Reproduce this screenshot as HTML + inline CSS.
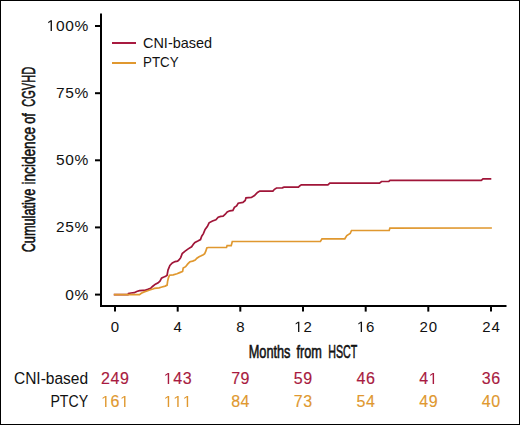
<!DOCTYPE html>
<html><head><meta charset="utf-8"><style>
html,body{margin:0;padding:0;background:#fff;}
#w{position:relative;width:520px;height:425px;box-sizing:border-box;border:1px solid #000;overflow:hidden;background:#fff;}
svg{position:absolute;left:-1px;top:-1px;}
text{font-family:"Liberation Sans",sans-serif;fill:#111;}
path.t,path.tp,path.r,path.l,path.n{fill:#111;}
.t{font-size:15px;}
.tp{font-size:15.5px;}
.c{font-size:19px;stroke:#111;stroke-width:0.6px;}
.l{font-size:15px;}
.r{font-size:16px;}
.n{font-size:16px;stroke-width:0.15px;}
text.n.rd,path.n.rd{stroke:#a81a40;}
text.n.og,path.n.og{stroke:#e0982f;}
text.rd,path.rd{fill:#a81a40;}
text.og,path.og{fill:#e0982f;}
</style></head><body><div id="w">
<svg width="520" height="425" viewBox="0 0 520 425">
<path d="M101 13.5V306H506.5" fill="none" stroke="#000" stroke-width="2"/>
<line x1="95" y1="26" x2="101" y2="26" stroke="#000" stroke-width="2"/>
<line x1="95" y1="93.2" x2="101" y2="93.2" stroke="#000" stroke-width="2"/>
<line x1="95" y1="160.3" x2="101" y2="160.3" stroke="#000" stroke-width="2"/>
<line x1="95" y1="227.4" x2="101" y2="227.4" stroke="#000" stroke-width="2"/>
<line x1="95" y1="294.6" x2="101" y2="294.6" stroke="#000" stroke-width="2"/>
<line x1="115.0" y1="306" x2="115.0" y2="311.6" stroke="#000" stroke-width="2"/>
<line x1="177.7" y1="306" x2="177.7" y2="311.6" stroke="#000" stroke-width="2"/>
<line x1="240.3" y1="306" x2="240.3" y2="311.6" stroke="#000" stroke-width="2"/>
<line x1="303.0" y1="306" x2="303.0" y2="311.6" stroke="#000" stroke-width="2"/>
<line x1="365.7" y1="306" x2="365.7" y2="311.6" stroke="#000" stroke-width="2"/>
<line x1="428.3" y1="306" x2="428.3" y2="311.6" stroke="#000" stroke-width="2"/>
<line x1="491.0" y1="306" x2="491.0" y2="311.6" stroke="#000" stroke-width="2"/>
<text x="88.30" y="31.00" text-anchor="end" class="tp" textLength="41.61" lengthAdjust="spacing"> 00%</text>
<path class="tp" d="M515 0L515 1237L197 1010L197 1180L530 1409L696 1409L696 0Z" transform="matrix(0.007568 0 0 -0.007568 46.69 31.00)"/>
<text x="88.30" y="98.00" text-anchor="end" class="tp" textLength="32.33" lengthAdjust="spacing">75%</text>
<text x="88.30" y="165.00" text-anchor="end" class="tp" textLength="32.33" lengthAdjust="spacing">50%</text>
<text x="88.30" y="232.00" text-anchor="end" class="tp" textLength="32.33" lengthAdjust="spacing">25%</text>
<text x="88.30" y="300.00" text-anchor="end" class="tp" textLength="23.06" lengthAdjust="spacing">0%</text>
<text x="115.00" y="332.00" text-anchor="middle" class="t" textLength="8.34" lengthAdjust="spacing">0</text>
<text x="177.67" y="332.00" text-anchor="middle" class="t" textLength="8.34" lengthAdjust="spacing">4</text>
<text x="240.33" y="332.00" text-anchor="middle" class="t" textLength="8.34" lengthAdjust="spacing">8</text>
<text x="303.00" y="332.00" text-anchor="middle" class="t" textLength="17.49" lengthAdjust="spacing"> 2</text>
<path class="t" d="M515 0L515 1237L197 1010L197 1180L530 1409L696 1409L696 0Z" transform="matrix(0.007324 0 0 -0.007324 294.26 332.00)"/>
<text x="365.67" y="332.00" text-anchor="middle" class="t" textLength="17.49" lengthAdjust="spacing"> 6</text>
<path class="t" d="M515 0L515 1237L197 1010L197 1180L530 1409L696 1409L696 0Z" transform="matrix(0.007324 0 0 -0.007324 356.93 332.00)"/>
<text x="428.34" y="332.00" text-anchor="middle" class="t" textLength="17.49" lengthAdjust="spacing">20</text>
<text x="491.00" y="332.00" text-anchor="middle" class="t" textLength="17.49" lengthAdjust="spacing">24</text>
<text x="269.60" y="358.10" text-anchor="middle" class="c" textLength="41.81" lengthAdjust="spacingAndGlyphs">Months</text>
<text x="309.20" y="358.10" text-anchor="middle" class="c" textLength="25.40" lengthAdjust="spacingAndGlyphs">from</text>
<text x="342.70" y="358.10" text-anchor="middle" class="c" textLength="29.05" lengthAdjust="spacingAndGlyphs">HSCT</text>
<text x="143.00" y="47.70" text-anchor="start" class="l" textLength="69.08" lengthAdjust="spacingAndGlyphs">CNI-based</text>
<text x="143.00" y="66.90" text-anchor="start" class="l" textLength="35.60" lengthAdjust="spacingAndGlyphs">PTCY</text>
<text x="88.10" y="384.00" text-anchor="end" class="r" textLength="74.17" lengthAdjust="spacingAndGlyphs">CNI-based</text>
<text x="88.10" y="407.00" text-anchor="end" class="r" textLength="37.69" lengthAdjust="spacingAndGlyphs">PTCY</text>
<text x="115.00" y="384.00" text-anchor="middle" class="n rd" textLength="27.90" lengthAdjust="spacing">249</text>
<text x="115.00" y="407.00" text-anchor="middle" class="n og" textLength="27.90" lengthAdjust="spacing"> 6 </text>
<path class="n og" d="M515 0L515 1237L197 1010L197 1180L530 1409L696 1409L696 0Z" transform="matrix(0.007812 0 0 -0.007812 101.05 407.00)"/>
<path class="n og" d="M515 0L515 1237L197 1010L197 1180L530 1409L696 1409L696 0Z" transform="matrix(0.007812 0 0 -0.007812 120.04 407.00)"/>
<text x="177.67" y="384.00" text-anchor="middle" class="n rd" textLength="27.90" lengthAdjust="spacing"> 43</text>
<path class="n rd" d="M515 0L515 1237L197 1010L197 1180L530 1409L696 1409L696 0Z" transform="matrix(0.007812 0 0 -0.007812 163.72 384.00)"/>
<text x="177.67" y="407.00" text-anchor="middle" class="n og" textLength="27.90" lengthAdjust="spacing">   </text>
<path class="n og" d="M515 0L515 1237L197 1010L197 1180L530 1409L696 1409L696 0Z" transform="matrix(0.007812 0 0 -0.007812 163.72 407.00)"/>
<path class="n og" d="M515 0L515 1237L197 1010L197 1180L530 1409L696 1409L696 0Z" transform="matrix(0.007812 0 0 -0.007812 173.22 407.00)"/>
<path class="n og" d="M515 0L515 1237L197 1010L197 1180L530 1409L696 1409L696 0Z" transform="matrix(0.007812 0 0 -0.007812 182.71 407.00)"/>
<text x="240.33" y="384.00" text-anchor="middle" class="n rd" textLength="18.40" lengthAdjust="spacing">79</text>
<text x="240.33" y="407.00" text-anchor="middle" class="n og" textLength="18.40" lengthAdjust="spacing">84</text>
<text x="303.00" y="384.00" text-anchor="middle" class="n rd" textLength="18.40" lengthAdjust="spacing">59</text>
<text x="303.00" y="407.00" text-anchor="middle" class="n og" textLength="18.40" lengthAdjust="spacing">73</text>
<text x="365.67" y="384.00" text-anchor="middle" class="n rd" textLength="18.40" lengthAdjust="spacing">46</text>
<text x="365.67" y="407.00" text-anchor="middle" class="n og" textLength="18.40" lengthAdjust="spacing">54</text>
<text x="428.34" y="384.00" text-anchor="middle" class="n rd" textLength="18.40" lengthAdjust="spacing">4 </text>
<path class="n rd" d="M515 0L515 1237L197 1010L197 1180L530 1409L696 1409L696 0Z" transform="matrix(0.007812 0 0 -0.007812 428.63 384.00)"/>
<text x="428.34" y="407.00" text-anchor="middle" class="n og" textLength="18.40" lengthAdjust="spacing">49</text>
<text x="491.00" y="384.00" text-anchor="middle" class="n rd" textLength="18.40" lengthAdjust="spacing">36</text>
<text x="491.00" y="407.00" text-anchor="middle" class="n og" textLength="18.40" lengthAdjust="spacing">40</text>
<text transform="translate(34.5,220.55) rotate(-90)" x="0" y="0" text-anchor="middle" class="c" textLength="63.53" lengthAdjust="spacingAndGlyphs">Cumulative</text>
<text transform="translate(34.5,155.75) rotate(-90)" x="0" y="0" text-anchor="middle" class="c" textLength="57.62" lengthAdjust="spacingAndGlyphs">incidence</text>
<text transform="translate(34.5,118.50) rotate(-90)" x="0" y="0" text-anchor="middle" class="c" textLength="10.51" lengthAdjust="spacingAndGlyphs">of</text>
<text transform="translate(34.5,86.80) rotate(-90)" x="0" y="0" text-anchor="middle" class="c" textLength="39.76" lengthAdjust="spacingAndGlyphs">CGVHD</text>
<polyline points="113.8,294.6 128.0,294.6 128.5,293.4 131.0,293.0 134.3,292.7 136.7,291.5 139.5,290.7 143.0,290.4 145.0,290.3 147.8,289.4 150.6,288.4 152.5,286.5 155.4,284.2 158.2,282.8 160.1,280.9 161.5,278.1 163.8,277.1 165.7,276.2 167.1,275.2 168.0,270.1 169.9,265.4 172.3,263.0 175.1,261.6 177.5,261.1 178.6,260.3 180.1,258.6 180.8,257.4 182.2,253.6 184.8,251.4 188.2,248.9 191.6,246.8 193.7,243.8 195.0,242.5 198.3,240.8 200.5,239.6 201.7,236.2 203.4,233.6 205.1,229.4 207.3,226.6 209.1,222.8 212.5,221.0 215.9,219.8 218.2,217.2 220.8,216.4 223.1,216.1 225.3,214.2 227.2,211.9 229.8,210.8 232.9,210.4 234.4,207.4 236.6,205.9 238.2,203.2 242.9,202.4 245.2,200.5 246.0,197.8 251.4,197.4 254.5,195.5 257.5,192.4 259.8,191.1 272.9,191.1 274.5,189.3 276.5,188.0 282.3,187.8 284.0,187.1 298.5,187.1 299.6,186.0 301.3,184.9 327.9,184.9 329.8,183.2 379.5,183.2 381.5,181.5 388.8,181.5 390.0,180.4 481.3,180.4 483.0,178.9 491.3,178.9" fill="none" stroke="#a01538" stroke-width="1.7" stroke-linejoin="miter"/>
<polyline points="113.8,294.7 139.5,294.7 141.3,293.3 144.2,291.9 147.0,291.0 149.7,290.0 152.8,289.0 154.4,288.4 159.1,287.9 161.9,287.0 165.2,286.1 167.1,285.1 167.6,281.4 168.5,277.6 169.5,275.2 173.2,274.8 177.0,273.8 180.3,272.4 182.6,271.5 183.2,268.1 185.6,266.7 187.8,263.9 189.9,261.8 192.7,261.1 195.2,260.0 196.9,258.2 199.1,256.8 201.2,255.8 203.3,254.7 204.7,253.7 205.8,251.2 206.8,248.0 208.2,247.5 226.5,247.5 227.1,245.6 231.2,245.6 232.3,241.5 320.4,241.5 322.0,238.9 344.8,238.8 346.8,235.5 350.2,233.5 351.5,230.5 389.2,230.5 389.9,228.1 491.9,228.0" fill="none" stroke="#e0982f" stroke-width="1.7" stroke-linejoin="miter"/>
<line x1="112" y1="43" x2="136" y2="43" stroke="#a81a40" stroke-width="2"/>
<line x1="112" y1="63" x2="136" y2="63" stroke="#e0982f" stroke-width="2"/>
</svg></div></body></html>
